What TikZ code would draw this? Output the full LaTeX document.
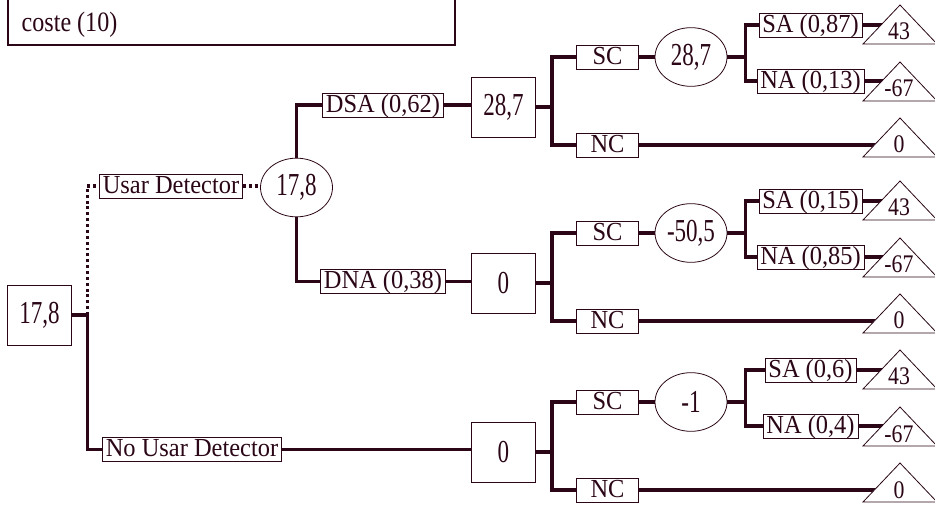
\documentclass[tikz,border=0pt]{standalone}
\usepackage{fontspec}
\setmainfont{Liberation Serif}
\newfontfamily\lblfont{Liberation Serif}[FakeStretch=0.94]
\newfontfamily\valfont{Liberation Serif}[FakeStretch=0.72]
\newfontfamily\notefont{Liberation Serif}[FakeStretch=0.86]
\usetikzlibrary{calc,shapes.geometric}

\definecolor{treeC}{RGB}{42,6,22}

\begin{document}
\begin{tikzpicture}[x=0.75pt, y=-0.75pt, line join=miter,
  every node/.style={text=treeC},
  lbl/.style={draw=treeC, line width=0.6pt, fill=white,
    font=\lblfont\fontsize{19.5}{22}\selectfont, inner xsep=2.5pt,
    inner ysep=0pt, text height=14.6pt, text depth=3.4pt},
  actbox/.style={lbl, minimum width=47pt},
  dec/.style={draw=treeC, line width=0.6pt, fill=white, minimum width=48pt,
    minimum height=45pt, inner sep=0pt, font=\valfont\fontsize{24}{26}\selectfont},
  chn/.style={ellipse, draw=treeC, line width=0.6pt, fill=white,
    minimum width=54pt, minimum height=44pt, inner sep=0pt,
    font=\valfont\fontsize{24}{26}\selectfont},
  pay/.style={anchor=base, font=\notefont\fontsize{19}{21}\selectfont},
  branch/.style={draw=treeC, line width=2.6pt},
  dotbranch/.style={draw=treeC, line width=2.5pt, dash pattern=on 2.2pt off 2.2pt},
  leaf/.style={draw=treeC, line width=0.6pt, fill=white}]

\useasboundingbox (0,0) rectangle (935,509);

% ----------------------------
% NOTE BOX (top left, cut by the page edge)
% ----------------------------
\draw[draw=treeC, line width=0.8pt] (8,-20) rectangle (455,45);
\node[anchor=base west, font=\notefont\fontsize{21}{24}\selectfont] (coste) at (17,32) {coste (10)};

% ----------------------------
% FIRST DECISION AND DETECTOR BRANCHES
% ----------------------------
\node[dec] (root) at (39.5,315) {17{,}8};
\node[lbl] (usar) at (171,186) {Usar Detector};
\node[lbl] (nousar) at (192,449.5) {No Usar Detector};
\node[chn] (c0) at (296.5,187.5) {17{,}8};
\node[lbl] (dsa) at (383,105) {DSA (0{,}62)};
\node[lbl] (dna) at (383,281.5) {DNA (0{,}38)};

% ----------------------------
% SUBTREES: compra (SC / NC), then aceptacion (SA / NA)
% \D = level of the decision box
% ----------------------------
\foreach \i/\D/\dv/\cv/\ps/\pn in {1/107/28{,}7/28{,}7/0{,}87/0{,}13,
                                   2/283/0/-50{,}5/0{,}15/0{,}85,
                                   3/452/0/-1/0{,}6/0{,}4}{
  \node[dec] (d\i) at (503.5,\D) {\dv};
  \node[actbox] (sc\i) at (607.5,\D-50) {SC};
  \node[actbox] (nc\i) at (607.5,\D+38) {NC};
  \node[chn] (c\i) at (691,\D-50) {\cv};
  \node[lbl] (sa\i) at (810.5,\D-82) {SA (\ps)};
  \node[lbl] (na\i) at (810.5,\D-26) {NA (\pn)};
  \coordinate (tsa\i) at (900,\D-63);
  \coordinate (tna\i) at (900,\D-6);
  \coordinate (tnc\i) at (900,\D+50);

  \draw[branch] (d\i.east) -- ++(16,0) coordinate (j\i);
  \draw[branch] (j\i) |- (sc\i.west);
  \draw[branch] (j\i) |- (nc\i.west);
  \draw[branch] (sc\i) -- (c\i);
  \draw[branch] (c\i.east) -- ++(18,0) coordinate (k\i);
  \draw[branch] (k\i) |- (sa\i.west);
  \draw[branch] (k\i) |- (na\i.west);
  \draw[branch] (sa\i.east) -- (sa\i.east -| tsa\i);
  \draw[branch] (na\i.east) -- (na\i.east -| tna\i);
  \draw[branch] (nc\i.east) -- (nc\i.east -| tnc\i);

  % payoff triangles
  \foreach \lf/\v in {tsa/43, tna/-67, tnc/0}{
    \filldraw[leaf] ($(\lf\i)+(-37,0)$) -- ($(\lf\i)+(0,-39)$)
      -- ($(\lf\i)+(37,0)$) -- cycle;
    \node[pay] (v\lf\i) at ($(\lf\i)+(-1,-4)$) {\v};
  }
}

% ----------------------------
% CONNECTORS ON THE LEFT
% ----------------------------
\draw[branch] (root.east) -- ++(15.5,0) coordinate (j0) |- (nousar.west);
\draw[dotbranch] (j0) |- (usar.west);
\draw[dotbranch] (usar.east) -- (usar.east -| c0.west);
\draw[branch] (c0.north) |- (dsa.west);
\draw[branch] (c0.south) |- (dna.west);
\draw[branch] (dsa.east) -- (dsa.east -| d1.west);
\draw[branch] (dna.east) -- (dna.east -| d2.west);
\draw[branch] (nousar.east) -- (nousar.east -| d3.west);

\end{tikzpicture}
\end{document}
